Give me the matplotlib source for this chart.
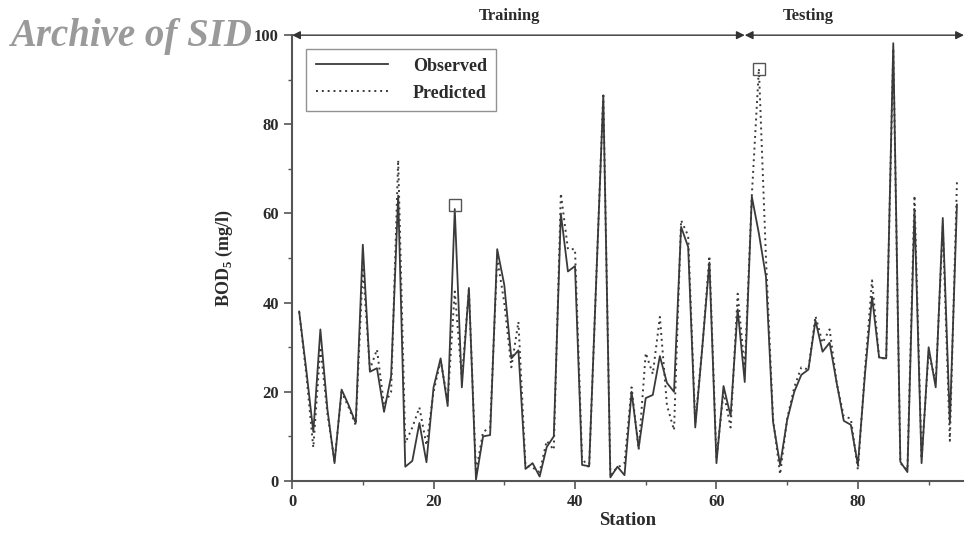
import matplotlib
matplotlib.use("Agg")
import matplotlib.pyplot as plt

stations = list(range(1, 95))
observed = [38, 25, 11, 34, 16, 4, 20.5, 17, 13, 53,
            24.5, 25.3, 15.5, 23.5, 64, 3.2, 4.5, 13, 4.2, 21,
            27.5, 16.8, 61, 21, 43.3, 0.3, 10, 10.3, 52, 44,
            27.5, 29.3, 2.7, 4, 1, 7.6, 10, 60, 47, 48.2,
            3.6, 3.3, 45, 86.5, 0.8, 3.2, 1.3, 20, 7.4, 18.6,
            19.3, 28, 22, 20, 57, 52.5, 12, 30, 49, 4,
            21.3, 14.6, 38.5, 22.2, 63.8, 55.5, 45.8, 13.3, 3.6, 13.7,
            20, 23.8, 25, 36, 29, 31, 22, 13.5, 12.6, 3.6,
            24, 41.3, 27.7, 27.5, 98.2, 4.3, 2, 61, 4, 30,
            21, 59, 13, 62]
predicted = [38, 24, 7.5, 30, 15, 4.5, 20, 16.5, 12.5, 48,
             25, 29.5, 17, 20, 72, 8.5, 12, 16.5, 8, 20,
             27, 18, 42.5, 23, 43, 2, 11, 12, 50, 40,
             25.5, 35.7, 3.5, 3, 2, 9, 7, 64.5, 52, 52,
             5, 3, 45, 87, 1.5, 3, 4, 21, 7, 28.7,
             24, 36.8, 17, 11.4, 58.5, 55, 13, 30, 50.5, 5,
             20, 12, 42, 25, 64, 92.5, 50, 14, 1.5, 14,
             21, 25.5, 25, 37, 31, 34, 22, 14.5, 14, 2.5,
             25, 45, 27.5, 27.5, 97, 4, 2.5, 64, 5, 29,
             22, 57, 9, 67]
highlight_x = [23, 66]
highlight_y = [62, 92.5]
phase_names = ["Training", "Testing"]
phase_bounds = [0, 64, 95]
x_ticks = [0, 20, 40, 60, 80]
y_ticks = [0, 20, 40, 60, 80, 100]

serif = ["Liberation Serif", "DejaVu Serif"]
plt.rcParams["font.family"] = serif
plt.rcParams["font.weight"] = "bold"
plt.rcParams["mathtext.fontset"] = "custom"
plt.rcParams["mathtext.rm"] = "Liberation Serif"
plt.rcParams["mathtext.bf"] = "Liberation Serif:bold"

txt = "#2b2b2b"
axc = "#555555"

fig = plt.figure(figsize=(9.64, 5.33), dpi=100)
ax = fig.add_axes([0.303, 0.0976, 0.697, 0.8364])

ax.plot(stations, observed, color="#3a3a3a", lw=1.3, label="Observed")
ax.plot(stations, predicted, color="#3a3a3a", lw=1.4, linestyle=(0, (1, 2)), label="Predicted")
ax.plot(highlight_x, highlight_y, linestyle="none", marker="s", ms=9,
        mfc="none", mec="#555555", mew=1.0)

ax.set_xlim(0, 95)
ax.set_ylim(0, 100)
ax.set_xticks(x_ticks)
ax.set_xticks([10, 30, 50, 70, 90], minor=True)
ax.set_yticks(y_ticks)
ax.set_yticks([10, 30, 50, 70, 90], minor=True)
ax.tick_params(axis="both", which="major", direction="out", length=6, width=1.2,
               colors=axc, labelcolor=txt, labelsize=12)
ax.tick_params(axis="both", which="minor", direction="out", length=3, width=1.0, colors=axc)
for lab in ax.get_xticklabels() + ax.get_yticklabels():
    lab.set_fontweight("bold")

for s in ["top", "right"]:
    ax.spines[s].set_visible(False)
for s in ["left", "bottom"]:
    ax.spines[s].set_color(axc)
    ax.spines[s].set_linewidth(1.5)

ax.set_xlabel("Station", fontsize=13.5, fontweight="bold", color=txt, labelpad=1)
ax.set_ylabel(r"BOD$_\mathbf{5}$ (mg/l)", fontsize=13, fontweight="bold", color=txt, labelpad=14)

# phase arrows
for i, name in enumerate(phase_names):
    x0, x1 = phase_bounds[i], phase_bounds[i + 1]
    ax.annotate("", xy=(x1, 100), xytext=(x0, 100), xycoords="data",
                arrowprops=dict(arrowstyle="<|-|>", color="#333333", lw=1.0,
                                mutation_scale=12, shrinkA=0, shrinkB=0),
                annotation_clip=False)
ax.text(30.8, 102.6, phase_names[0], ha="center", va="bottom", fontsize=12,
        fontweight="bold", color=txt, clip_on=False)
ax.text(73.0, 102.6, phase_names[1], ha="center", va="bottom", fontsize=12,
        fontweight="bold", color=txt, clip_on=False)

leg = ax.legend(loc="upper left", bbox_to_anchor=(0.008, 0.99), frameon=True, fancybox=False,
                edgecolor="#777777", handlelength=4.0, handletextpad=1.4,
                borderpad=0.5, labelspacing=0.55,
                prop=dict(family=serif, weight="bold", size=13))
leg.get_frame().set_linewidth(1.0)
for t in leg.get_texts():
    t.set_color(txt)

fig.text(0.01, 0.897, "Archive of SID", fontsize=28, fontstyle="italic", fontweight="bold",
         color="#9a9a9a", family=serif, ha="left", va="bottom")

fig.savefig("out.png", dpi=100)
